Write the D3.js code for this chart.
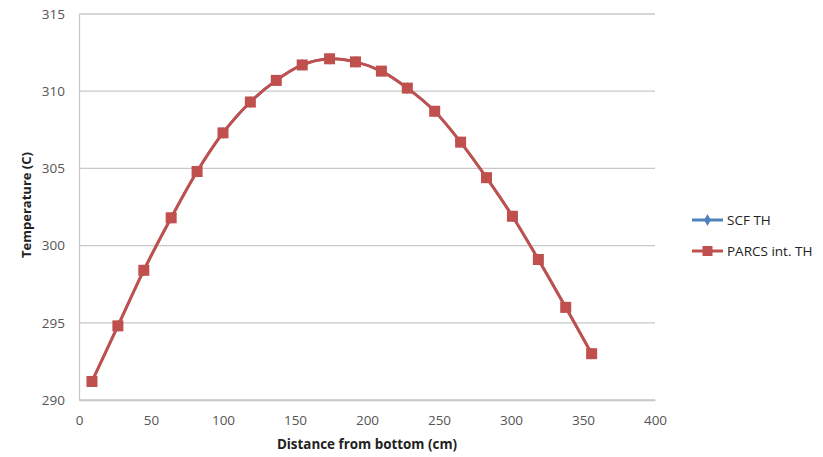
<!DOCTYPE html>
<html>
<head>
<meta charset="utf-8">
<script src="https://cdn.jsdelivr.net/npm/d3@7"></script>
<style>
  body { margin: 0; background: #fff; }
  text { font-family: "Open Sans", "Liberation Sans", sans-serif; }
</style>
</head>
<body>
<script>
// values
var distance = [9, 27, 45, 64, 82, 100, 119, 137, 155, 174, 192, 210, 228, 247, 265, 283, 301, 319, 338, 356];
var scfTH   = [291.2, 294.8, 298.4, 301.8, 304.8, 307.3, 309.3, 310.7, 311.7, 312.1, 311.9, 311.3, 310.2, 308.7, 306.7, 304.4, 301.9, 299.1, 296.0, 293.0];
var parcsTH = [291.2, 294.8, 298.4, 301.8, 304.8, 307.3, 309.3, 310.7, 311.7, 312.1, 311.9, 311.3, 310.2, 308.7, 306.7, 304.4, 301.9, 299.1, 296.0, 293.0];
var xTicks = [0, 50, 100, 150, 200, 250, 300, 350, 400];
var yTicks = [290, 295, 300, 305, 310, 315];
var seriesNames = ["SCF TH", "PARCS int. TH"];

var width = 823, height = 457;
var plotLeft = 79, plotRight = 655, plotTop = 14, plotBottom = 400;

var svg = d3.select("body").append("svg")
    .attr("width", width)
    .attr("height", height);

var x = d3.scaleLinear().domain([0, 400]).range([plotLeft, plotRight]);
var y = d3.scaleLinear().domain([290, 315]).range([plotBottom, plotTop]);

// gridlines
svg.append("g")
  .selectAll("line")
  .data(yTicks)
  .enter()
  .append("line")
  .attr("x1", plotLeft)
  .attr("x2", plotRight)
  .attr("y1", function(d){ return y(d); })
  .attr("y2", function(d){ return y(d); })
  .style("stroke", "#c8c8c8")
  .style("stroke-width", 1.3);

// left axis
var yAxis = svg.append("g")
  .attr("transform", "translate(" + plotLeft + ",0)")
  .call(d3.axisLeft(y).tickValues(yTicks).tickSize(0).tickPadding(14));
yAxis.select(".domain").style("stroke", "#c8c8c8").style("stroke-width", 1.3);
yAxis.selectAll("text")
  .attr("font-size", "13.5px")
  .attr("fill", "#555")
  .style("font-family", "\"Open Sans\", sans-serif");

// bottom axis
var xAxis = svg.append("g")
  .attr("transform", "translate(0," + plotBottom + ")")
  .call(d3.axisBottom(x).tickValues(xTicks).tickSize(0).tickPadding(15));
xAxis.select(".domain").style("stroke", "#c8c8c8").style("stroke-width", 1.3);
xAxis.selectAll("text")
  .attr("font-size", "13.5px")
  .attr("fill", "#555")
  .style("font-family", "\"Open Sans\", sans-serif");

// axis titles
svg.append("text")
  .attr("x", 367)
  .attr("y", 449)
  .attr("text-anchor", "middle")
  .attr("font-size", "13.4px")
  .attr("font-weight", "700")
  .attr("fill", "#222")
  .text("Distance from bottom (cm)");

svg.append("text")
  .attr("transform", "translate(31,205) rotate(-90)")
  .attr("text-anchor", "middle")
  .attr("font-size", "13px")
  .attr("font-weight", "700")
  .attr("fill", "#222")
  .text("Temperature (C)");

var line = d3.line()
  .x(function(d){ return x(d[0]); })
  .y(function(d){ return y(d[1]); })
  .curve(d3.curveCatmullRom.alpha(0.5));

var scfData = d3.zip(distance, scfTH);
var parcsData = d3.zip(distance, parcsTH);

// SCF TH (lies under the PARCS curve)
svg.append("path")
  .datum(scfData)
  .attr("d", line)
  .style("fill", "none")
  .style("stroke", "#4f81bd")
  .style("stroke-width", 2.5);

svg.append("g")
  .selectAll("path")
  .data(scfData)
  .enter()
  .append("path")
  .attr("d", d3.symbol().type(d3.symbolDiamond).size(40))
  .attr("transform", function(d){ return "translate(" + x(d[0]) + "," + y(d[1]) + ")"; })
  .style("fill", "#4f81bd");

// PARCS int. TH
svg.append("path")
  .datum(parcsData)
  .attr("d", line)
  .style("fill", "none")
  .style("stroke", "#c0504d")
  .style("stroke-width", 3);

svg.append("g")
  .selectAll("rect")
  .data(parcsData)
  .enter()
  .append("rect")
  .attr("x", function(d){ return x(d[0]) - 5.5; })
  .attr("y", function(d){ return y(d[1]) - 5.5; })
  .attr("width", 11)
  .attr("height", 11)
  .style("fill", "#c0504d");

// legend
var legend = svg.append("g").attr("transform", "translate(692,220)");
var legendColors = ["#4f81bd", "#c0504d"];

legend.selectAll("line")
  .data(seriesNames)
  .enter()
  .append("line")
  .attr("x1", 0)
  .attr("x2", 31)
  .attr("y1", function(d, i){ return i * 31; })
  .attr("y2", function(d, i){ return i * 31; })
  .style("stroke", function(d, i){ return legendColors[i]; })
  .style("stroke-width", 3);

legend.append("path")
  .attr("d", d3.symbol().type(d3.symbolDiamond).size(40))
  .attr("transform", "translate(15.5,0)")
  .style("fill", legendColors[0]);

legend.append("rect")
  .attr("x", 10.5)
  .attr("y", 31 - 5)
  .attr("width", 10)
  .attr("height", 10)
  .style("fill", legendColors[1]);

legend.selectAll("text")
  .data(seriesNames)
  .enter()
  .append("text")
  .attr("x", 35)
  .attr("y", function(d, i){ return i * 31 + 5; })
  .attr("font-size", "13.5px")
  .attr("fill", "#222")
  .text(function(d){ return d; });
</script>
</body>
</html>
